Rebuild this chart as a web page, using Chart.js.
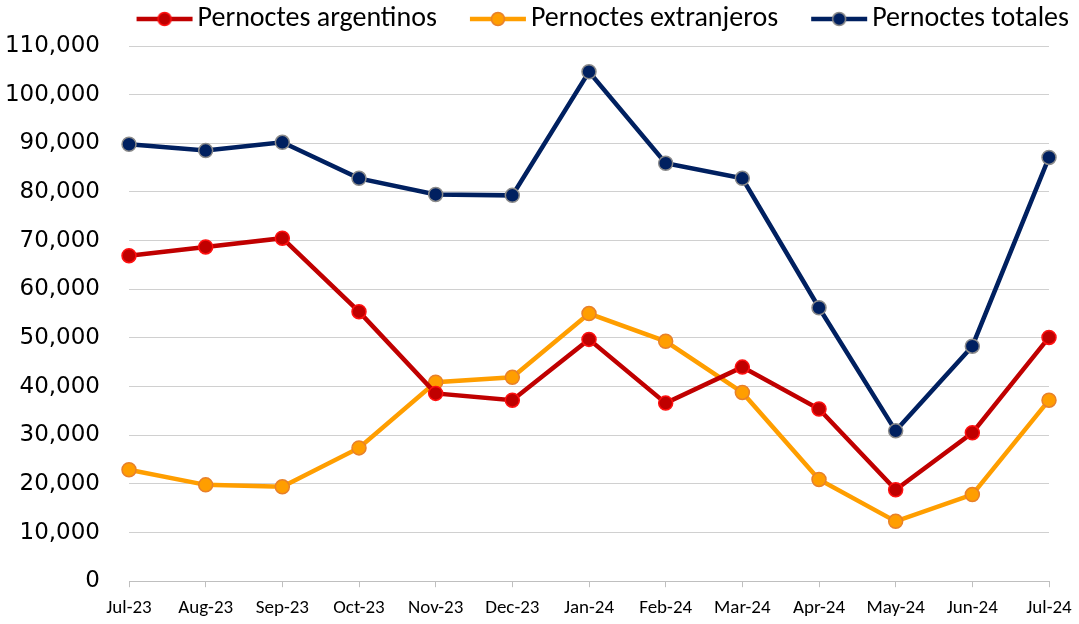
<!DOCTYPE html>
<html>
<head>
<meta charset="utf-8">
<script src="https://cdn.jsdelivr.net/npm/chart.js@4"></script>
<style>
  body { margin: 0; background: #fff; }
</style>
</head>
<body>
<canvas id="plot" width="1079" height="624"></canvas>
<script>
const meses = ['Jul-23', 'Aug-23', 'Sep-23', 'Oct-23', 'Nov-23', 'Dec-23', 'Jan-24', 'Feb-24', 'Mar-24', 'Apr-24', 'May-24', 'Jun-24', 'Jul-24'];
const argentinos = [66900, 68700, 70500, 55400, 38600, 37200, 49700, 36600, 44000, 35400, 18800, 30500, 50100];
const extranjeros = [22900, 19800, 19400, 27400, 40900, 41900, 55000, 49300, 38800, 20900, 12300, 17800, 37200];
const totales = [89800, 88500, 90200, 82800, 79500, 79300, 104700, 85900, 82800, 56200, 30900, 48300, 87100];

const narrow = "'Liberation Sans Narrow', 'Arial Narrow', Carlito, Lato, sans-serif";

// icono de leyenda: linea con circulo (con hueco transparente a la izquierda)
const hueco = 37;
let makeIcon = (line, fill, border) => {
    let c = document.createElement('canvas');
    c.width = 58 + hueco; c.height = 20;
    let ctx = c.getContext('2d');
    ctx.strokeStyle = line;
    ctx.lineWidth = 4.5;
    ctx.beginPath();
    ctx.moveTo(hueco + 1, 10); ctx.lineTo(hueco + 57, 10);
    ctx.stroke();
    ctx.beginPath();
    ctx.arc(hueco + 29, 10, 6.5, 0, Math.PI * 2);
    ctx.fillStyle = fill;
    ctx.fill();
    ctx.lineWidth = 1.5;
    ctx.strokeStyle = border;
    ctx.stroke();
    return c;
}

let makeSerie = (label, data, line, fill, border) => ({
    label: label,
    data: data,
    borderColor: line,
    borderWidth: 4.5,
    pointRadius: 7,
    pointHoverRadius: 7,
    pointBackgroundColor: fill,
    pointBorderColor: border,
    pointBorderWidth: 1.5,
    pointStyle: 'circle',
    icon: makeIcon(line, fill, border),
    tension: 0,
    fill: false
});

// corre la leyenda: a la derecha, fuera del area del grafico, y un poco arriba
const moverLeyenda = {
    id: 'moverLeyenda',
    afterLayout: (chart) => {
        chart.legend.left += 22;
        chart.legend.right += 22;
        chart.legend.top -= 3;
        chart.legend.bottom -= 3;
    }
};

let config = {
    type: 'line',
    data: {
        labels: meses,
        datasets: [
            makeSerie('Pernoctes argentinos', argentinos, '#C00000', '#C00000', '#FF1010'),
            makeSerie('Pernoctes extranjeros', extranjeros, '#FF9E00', '#FF9E00', '#E8802A'),
            makeSerie('Pernoctes totales', totales, '#002060', '#002060', '#8A8A8A')
        ]
    },
    options: {
        responsive: false,
        animation: false,
        layout: { padding: { left: 0, right: 27, top: 3, bottom: 0 } },
        plugins: {
            tooltip: { enabled: false },
            legend: {
                position: 'top',
                align: 'end',
                labels: {
                    color: '#000',
                    font: { family: narrow, size: 28 },
                    usePointStyle: true,
                    pointStyleWidth: 58 + hueco - 20,
                    boxHeight: 28,
                    padding: 5,
                    generateLabels: (chart) => chart.data.datasets.map((ds, i) => ({
                        text: ds.label,
                        pointStyle: ds.icon,
                        fillStyle: ds.borderColor,
                        strokeStyle: ds.borderColor,
                        lineWidth: 0,
                        datasetIndex: i,
                        hidden: false
                    }))
                }
            }
        },
        scales: {
            x: {
                offset: false,
                grid: { drawOnChartArea: false, drawTicks: true, tickLength: 6, color: '#BFBFBF' },
                border: { color: '#BFBFBF', width: 1 },
                ticks: { color: '#000', font: { family: narrow, size: 19 }, padding: 10, maxRotation: 0, autoSkip: false },
                afterFit: (scale) => {
                    scale.height = 41;
                    scale.paddingLeft = 0;
                    scale.paddingRight = 30;
                }
            },
            y: {
                min: 0,
                max: 110000,
                grid: { color: '#D0D0D0', drawTicks: false },
                border: { display: false },
                ticks: {
                    stepSize: 10000,
                    color: '#000',
                    padding: 29,
                    font: { family: "'DejaVu Sans', sans-serif", size: 23 },
                    callback: (v) => v.toLocaleString('en-US')
                },
                afterFit: (scale) => { scale.width = 129; }
            }
        }
    },
    plugins: [moverLeyenda]
};

new Chart(document.getElementById('plot').getContext('2d'), config);
</script>
</body>
</html>
